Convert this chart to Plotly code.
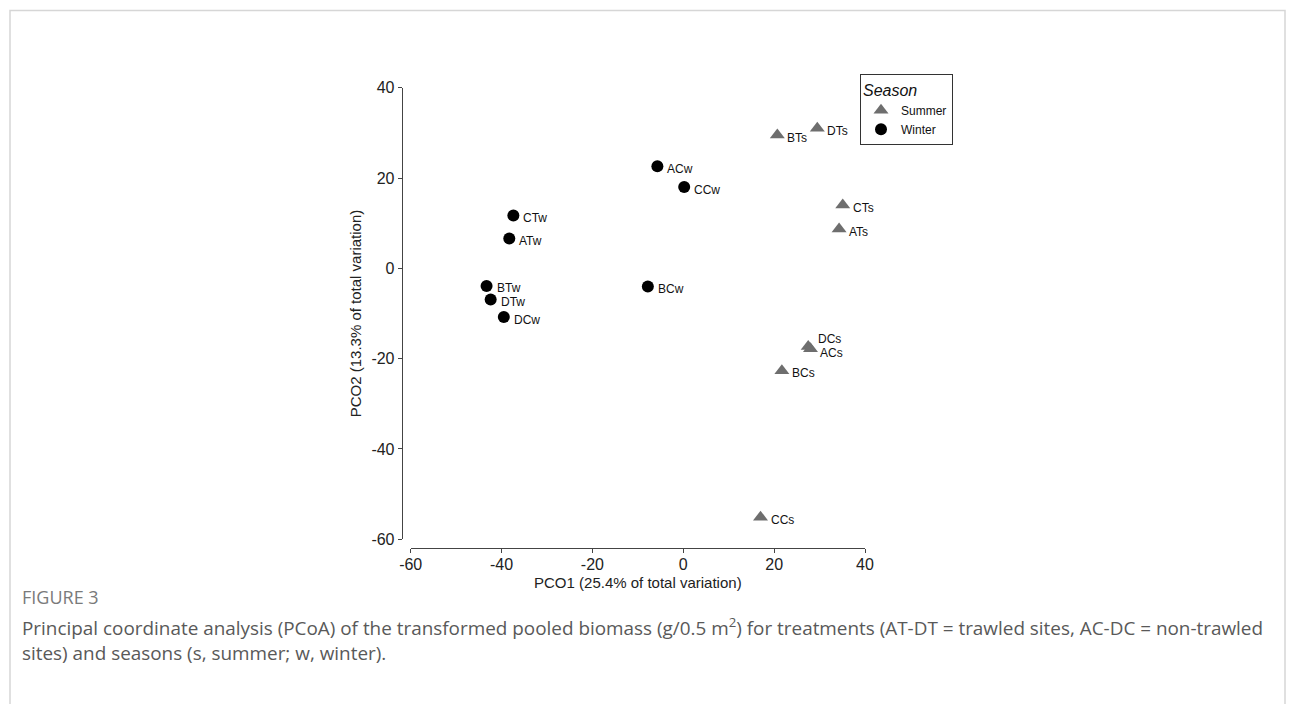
import plotly.graph_objects as go

W, H = 1295, 704

# ---- Data ----
summer_labels = ["BTs", "DTs", "CTs", "ATs", "DCs", "ACs", "BCs", "CCs"]
summer_x = [20.7, 29.5, 35.1, 34.3, 27.5, 28.0, 21.7, 17.0]
summer_y = [29.5, 31.0, 14.0, 8.7, -17.3, -17.8, -22.7, -55.1]

winter_labels = ["ACw", "CCw", "CTw", "ATw", "BTw", "DTw", "DCw", "BCw"]
winter_x = [-5.7, 0.2, -37.4, -38.3, -43.3, -42.4, -39.5, -7.8]
winter_y = [22.6, 18.0, 11.7, 6.6, -3.9, -6.9, -10.8, -4.0]

tick_vals = [-60, -40, -20, 0, 20, 40]
tick_text = ["-60", "-40", "-20", "0", "20", "40"]

# label vertical nudges (style only)
label_dy = {"DCs": 7, "ACs": -4}

# the page body adds an 8px margin; layout positions are given in screen pixels
OFF = 8


def px(x):
    return (x - OFF) / W


def py(y):
    return 1 - (y - OFF) / H


fig = go.Figure()
fig.add_trace(go.Scatter(
    x=summer_x, y=summer_y, mode="markers", name="Summer",
    marker=dict(symbol="triangle-up", size=13, color="#6e6e6e"),
    cliponaxis=False,
))
fig.add_trace(go.Scatter(
    x=winter_x, y=winter_y, mode="markers", name="Winter",
    marker=dict(symbol="circle", size=12, color="#000"),
    cliponaxis=False,
))

lab_font = dict(family="Liberation Sans, Arial", size=12, color="#111")
for labs, xs, ys in [(summer_labels, summer_x, summer_y), (winter_labels, winter_x, winter_y)]:
    for lab, xv, yv in zip(labs, xs, ys):
        fig.add_annotation(x=xv, y=yv, text=lab, showarrow=False, xref="x", yref="y",
                           xanchor="left", yanchor="middle", xshift=8,
                           yshift=label_dy.get(lab, -2.5), font=lab_font)

axis_font = dict(family="Liberation Sans, Arial", size=16, color="#222")
title_font = dict(family="Liberation Sans, Arial", size=15, color="#222")
fig.update_layout(
    width=W, height=H,
    margin=dict(l=0, r=0, t=0, b=0, autoexpand=False),
    paper_bgcolor="white", plot_bgcolor="white",
    showlegend=True,
    xaxis=dict(
        domain=[px(410.7), px(865)], range=[-60, 40],
        tickmode="array", tickvals=tick_vals, ticktext=tick_text,
        anchor="free", position=py(548.3), automargin=False,
        showline=True, linecolor="#444", linewidth=1,
        ticks="outside", ticklen=4, tickcolor="#444", ticklabelstandoff=-3,
        showgrid=False, zeroline=False, tickfont=axis_font,
        title=dict(text="PCO1 (25.4% of total variation)", font=title_font, standoff=5),
    ),
    yaxis=dict(
        domain=[py(539.3), py(87.7)], range=[-60, 40],
        tickmode="array", tickvals=tick_vals, ticktext=tick_text,
        anchor="free", position=px(401.7), automargin=False,
        showline=True, linecolor="#444", linewidth=1,
        ticks="outside", ticklen=4, tickcolor="#444",
        showgrid=False, zeroline=False, tickfont=axis_font,
        title=dict(text="PCO2 (13.3% of total variation)", font=title_font, standoff=5),
    ),
    legend=dict(
        x=px(953), y=py(145), xanchor="right", yanchor="bottom",
        bordercolor="#333", borderwidth=1, bgcolor="white",
        font=dict(family="Liberation Sans, Arial", size=12, color="#111"),
        title=dict(text="Season", font=dict(family="Liberation Sans, Arial", size=16,
                                              color="#111", style="italic")),
        itemwidth=30, tracegroupgap=0,
    ),
)

# Outer frame
fig.add_shape(type="rect", xref="paper", yref="paper",
              x0=px(10), x1=px(1285), y0=py(730), y1=py(10.5),
              line=dict(color="#d6d6d6", width=1.5), fillcolor="rgba(0,0,0,0)", layer="below")

cap_font = "Open Sans, Noto Sans, sans-serif"
fig.add_annotation(text="FIGURE 3", xref="paper", yref="paper",
                   x=px(20), y=py(597), xanchor="left", yanchor="middle",
                   showarrow=False, font=dict(family=cap_font, size=18, color="#7a7a7a"))
fig.add_annotation(
    text="Principal coordinate analysis (PCoA) of the transformed pooled biomass (g/0.5 m<sup>2</sup>) "
         "for treatments (AT-DT = trawled sites, AC-DC = non-trawled",
    xref="paper", yref="paper", x=px(20), y=py(627), xanchor="left", yanchor="middle",
    showarrow=False, font=dict(family=cap_font, size=18.9, color="#595959"))
fig.add_annotation(
    text="sites) and seasons (s, summer; w, winter).",
    xref="paper", yref="paper", x=px(20), y=py(653), xanchor="left", yanchor="middle",
    showarrow=False, font=dict(family=cap_font, size=18.9, color="#595959"))

fig.write_html("out.html")
